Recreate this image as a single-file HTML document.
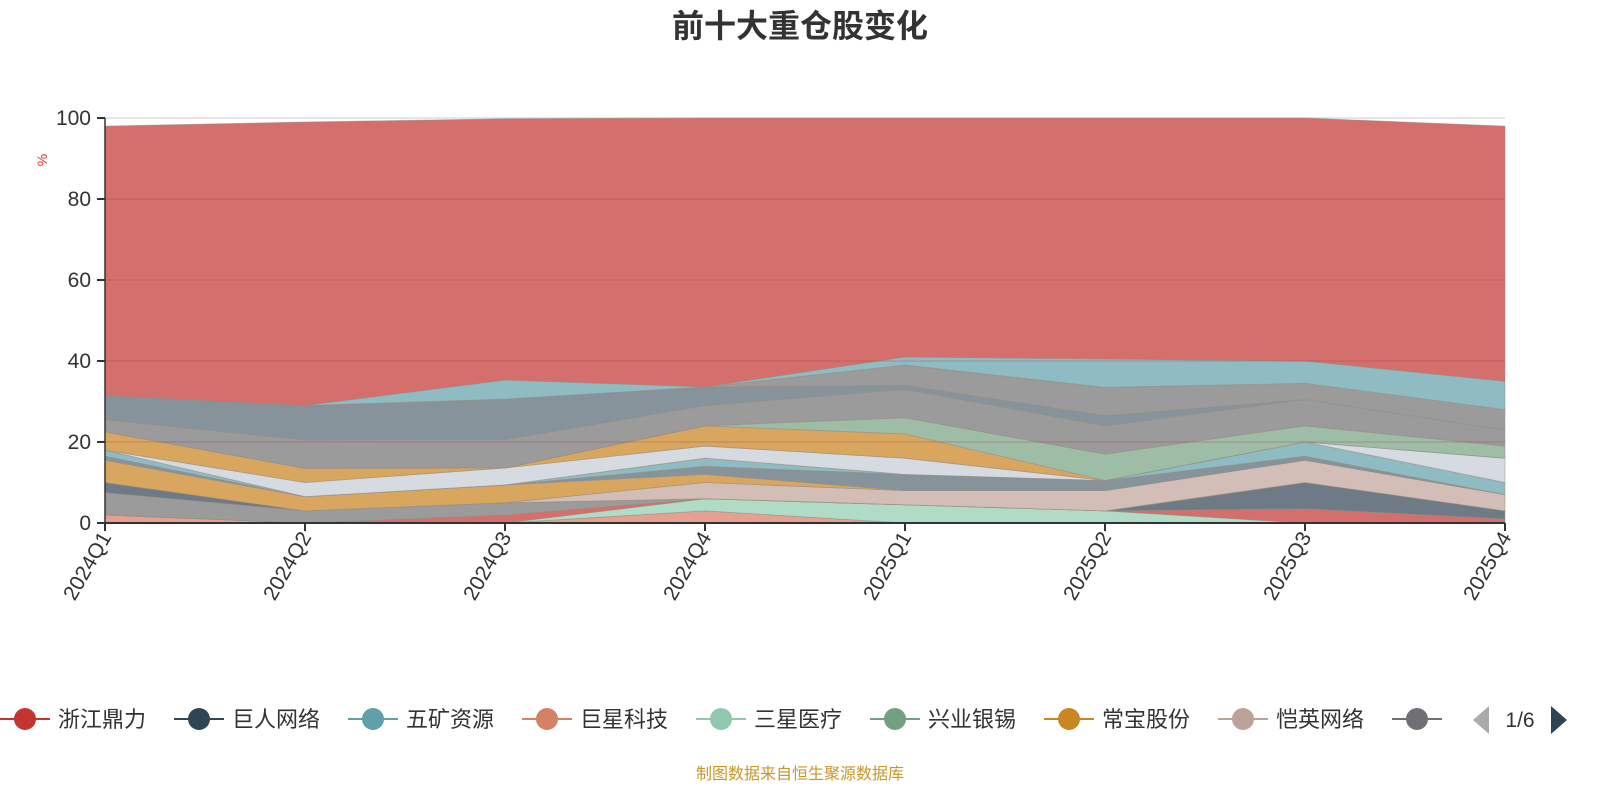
<!DOCTYPE html>
<html><head><meta charset="utf-8">
<style>
html,body{margin:0;padding:0;background:#fff;}
svg text{font-family:"Liberation Sans","Noto Sans CJK SC",sans-serif;}
</style></head>
<body>
<svg id="chart" width="1600" height="800" xmlns="http://www.w3.org/2000/svg">
<text x="800" y="37" text-anchor="middle" font-size="32" font-weight="bold" fill="#333">前十大重仓股变化</text>
<text x="0" y="0" transform="translate(47,160) rotate(-90)" text-anchor="middle" font-size="14" fill="#e03030">%</text>
<g id="grid"></g>
<g id="areas"></g>
<g id="axes"></g>
<g id="legend"></g>
<text x="800" y="779" text-anchor="middle" font-size="16" fill="#c8962a">制图数据来自恒生聚源数据库</text>
</svg>
<script>
const categories=["2024Q1","2024Q2","2024Q3","2024Q4","2025Q1","2025Q2","2025Q3","2025Q4"];
const yTicks=[0,20,40,60,80,100];
const s1=[2,0,0,3,0,0,0,0];
const s2=[0,0,0,3,4.5,3,0,0];
const s3=[0,0,2,0,0,0,3.5,1];
const s4=[5.5,3,3,0,0,0,0,0];
const s5=[2.5,0,0,0,0,0,6.5,2];
const s6=[0,0,0,4,3.5,5,5.5,4];
const s7=[5.5,3.5,4.4,2,0,0,0,0];
const s8=[1,0,0,2,4,2.5,1,0];
const s9=[1.5,0,0,2,0,0,3.5,3];
const s10=[0,3.5,4.2,3,4,0,0,6];
const s11=[4.5,3.5,0,5,6,0,0,0];
const s12=[0,0,0,0,4,6.5,4,3];
const s13=[3,7,7,5,7,7,6.5,4];
const s14=[6,8.5,10,4.6,1,2.5,0,0];
const s15=[0,0,0,0,5,7,4,5];
const s16=[0,0,4.7,0,2,7,5.5,7];
const sTop=[66.5,70,64.5,66.4,59,59.5,60,63];
const seriesValues=[s1,s2,s3,s4,s5,s6,s7,s8,s9,s10,s11,s12,s13,s14,s15,s16,sTop];
const seriesColors=["#e5a08f","#b0dbc6","#d46f6d","#9b9b9b","#6e7b86","#d3beb7","#d8a65e","#86939b","#8fbcc3","#d5dbe0","#d8a65e","#9dbda7","#9b9b9b","#86939b","#9b9b9b","#8fbcc3","#d46f6d"];
const legendNames=["浙江鼎力","巨人网络","五矿资源","巨星科技","三星医疗","兴业银锡","常宝股份","恺英网络","江"];
const legendColors=["#c23531","#2f4554","#61a0a8","#d48265","#91c7ae","#749f83","#ca8622","#bda29a","#6e7074"];

const NS="http://www.w3.org/2000/svg";
const X0=105,X1=1505,Y0=523,Y1=118;
const xs=i=>X0+i*(X1-X0)/(categories.length-1);
const ys=v=>Y0-(v/100)*(Y0-Y1);
function mk(tag,attrs,parent){const e=document.createElementNS(NS,tag);for(const k in attrs)e.setAttribute(k,attrs[k]);parent.appendChild(e);return e;}
const grid=document.getElementById('grid'),areas=document.getElementById('areas'),axes=document.getElementById('axes'),legend=document.getElementById('legend');

yTicks.forEach(t=>{
  const l=mk('line',{x1:X0,x2:X1,y1:ys(t),y2:ys(t),stroke:t===100?'#ccc':'#e6e6e6'},t===100?grid:axes);
  
  
  if(t>0&&t<100){l.setAttribute('stroke','rgba(160,60,60,0.35)');}
  const tk=mk('line',{x1:X0-8,x2:X0,y1:ys(t),y2:ys(t),stroke:'#333','stroke-width':2},axes);
  
  
  const tx=mk('text',{x:X0-14,y:ys(t)+7,'text-anchor':'end','font-size':21,fill:'#333'},axes);
  tx.textContent=t;
  
  
});

let base=categories.map(()=>0);
seriesValues.forEach((vals,si)=>{
  const top=vals.map((v,i)=>base[i]+v);
  let d='M'+categories.map((c,i)=>xs(i)+','+ys(top[i])).join(' L');
  for(let i=categories.length-1;i>=0;i--)d+=' L'+xs(i)+','+ys(base[i]);
  d+='Z';
  const p=mk('path',{d:d,fill:seriesColors[si],stroke:'rgba(150,140,130,0.6)','stroke-width':0.8},areas);
  
  
  base=top;
});

const ax=mk('line',{x1:X0,x2:X1,y1:Y0,y2:Y0,stroke:'#333','stroke-width':2},axes);


const ay=mk('line',{x1:X0,x2:X0,y1:Y1,y2:Y0,stroke:'#333','stroke-width':1.5},axes);


categories.forEach((c,i)=>{
  const tk=mk('line',{x1:xs(i),x2:xs(i),y1:Y0,y2:Y0+8,stroke:'#333','stroke-width':2},axes);
  
  
  const t=mk('text',{x:0,y:0,transform:`translate(${xs(i)+7},${Y0+14}) rotate(-60)`,'text-anchor':'end','font-size':21,fill:'#333'},axes);
  t.textContent=c;
  
  
});

legendNames.forEach((n,i)=>{
  const lx=i*174, ly=719;
  const g=mk('g',{},legend);
  
  
  mk('line',{x1:lx,x2:lx+50,y1:ly,y2:ly,stroke:legendColors[i],'stroke-width':2},g);
  mk('circle',{cx:lx+25,cy:ly,r:11,fill:legendColors[i]},g);
  const t=mk('text',{x:lx+58,y:ly+8,'font-size':22,fill:'#333'},g);
  t.textContent=n;
});
const mask=mk('rect',{x:1442,y:695,width:158,height:50,fill:'#fff'},legend);


const pl=mk('path',{d:'M1489,706 L1489,734 L1473,720 Z',fill:'#aaa'},legend);


const pt=mk('text',{x:1520,y:727,'text-anchor':'middle','font-size':21,fill:'#333'},legend);
pt.textContent='1/6';


const pr=mk('path',{d:'M1551,706 L1551,734 L1567,720 Z',fill:'#2f4554'},legend);


</script>
</body></html>
